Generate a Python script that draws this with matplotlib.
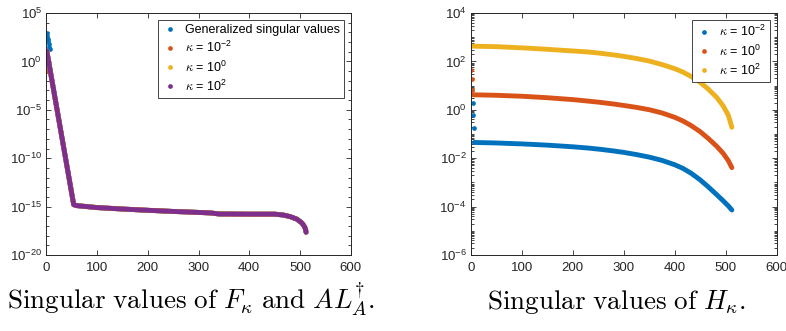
import numpy as np
import matplotlib
matplotlib.use("Agg")
import matplotlib.pyplot as plt
from matplotlib.lines import Line2D
from matplotlib.ticker import LogLocator, NullFormatter, FixedLocator

plt.rcParams['font.family'] = ['Liberation Sans', 'DejaVu Sans']
plt.rcParams['mathtext.fontset'] = 'cm'

# MATLAB default colours
c_blue, c_orange, c_yellow, c_purple = '#0072BD', '#D95319', '#EDB120', '#7E2F8E'

# ---- left panel: singular values of F_kappa and A L_A^+ (log10 values)
tail_idx = [1, 54, 60, 100, 150, 200, 250, 300, 325, 340, 400, 450, 467, 481, 494, 504, 509, 511, 512]
tail_log = [1.07, -14.8, -14.9, -15.1, -15.25, -15.38, -15.5, -15.6, -15.66, -15.76,
            -15.78, -15.78, -15.87, -16.04, -16.3, -16.7, -17.08, -17.35, -17.65]

gsv_head_idx = [1, 2, 3, 4, 5, 6, 7]
gsv_head_log = [2.9, 2.62, 2.35, 2.08, 1.8, 1.52, 1.25]
km2_head_idx = [1, 2, 3, 4, 5, 6]
km2_head_log = [-0.96, -0.96, -0.96, -0.96, -0.96, -0.96]
k0_head_idx = [1, 2]
k0_head_log = [0.02, 0.02]

left_labels = ['Generalized singular values', r'$\kappa$ = $\mathdefault{10^{-2}}$',
               r'$\kappa$ = $\mathdefault{10^{0}}$', r'$\kappa$ = $\mathdefault{10^{2}}$']

# ---- right panel: singular values of H_kappa
h_idx = [50, 101, 150, 201, 230, 253, 280, 300, 325, 351, 375, 400, 416, 432, 449,
         465, 482, 495, 505, 512]

hm2_head_idx = [4, 5, 6]
hm2_head_log = [0.30, -0.22, -0.75]
hm2_start = (7, -1.35)
hm2_log = [-1.37, -1.41, -1.46, -1.53, -1.58, -1.63, -1.70, -1.76, -1.85, -1.96, -2.09,
           -2.27, -2.42, -2.62, -2.88, -3.17, -3.50, -3.76, -3.97, -4.14]

h0_head_idx = [1, 2, 3]
h0_head_log = [1.64, 1.27, 0.81]
h0_start = (4, 0.62)
h0_log = [0.60, 0.56, 0.50, 0.42, 0.36, 0.31, 0.24, 0.18, 0.10, 0.0, -0.13, -0.31,
          -0.46, -0.65, -0.89, -1.17, -1.50, -1.80, -2.10, -2.39]

h2_start = (1, 2.63)
h2_log = [2.61, 2.56, 2.50, 2.43, 2.39, 2.34, 2.27, 2.21, 2.12, 2.01, 1.87, 1.70,
          1.56, 1.38, 1.15, 0.87, 0.52, 0.16, -0.22, -0.72]

right_labels = [r'$\kappa$ = $\mathdefault{10^{-2}}$', r'$\kappa$ = $\mathdefault{10^{0}}$',
                r'$\kappa$ = $\mathdefault{10^{2}}$']

LW = 3.5
MS = 3.4
ink = '#262626'


def pow10(v):
    return np.power(10.0, np.asarray(v, dtype=float))


def band(ax, x, ylog, color):
    ax.plot(x, pow10(ylog), '-', color=color, lw=LW, solid_capstyle='round',
            solid_joinstyle='round')


def dots(ax, x, ylog, color):
    ax.plot(x, pow10(ylog), 'o', color=color, ms=MS, mew=0)


def style(ax):
    ax.set_yscale('log')
    ax.set_xlim(0, 600)
    ax.xaxis.set_major_locator(FixedLocator(np.arange(0, 601, 100)))
    ax.tick_params(which='both', direction='in', top=True, right=True, color=ink,
                   labelcolor=ink, width=0.6, labelsize=9.5)
    ax.tick_params(which='major', length=3.5)
    ax.tick_params(which='minor', length=2)
    ax.tick_params(axis='x', pad=5)
    ax.tick_params(axis='y', pad=3)
    ax.yaxis.set_minor_formatter(NullFormatter())
    for s in ax.spines.values():
        s.set_color(ink)
        s.set_linewidth(0.7)


def legend(ax, colors, labels):
    handles = [Line2D([], [], color=c, marker='o', ls='none', ms=MS, mew=0) for c in colors]
    lg = ax.legend(handles, labels, loc='upper right', bbox_to_anchor=(0.979, 0.972),
                   fancybox=False, framealpha=1, edgecolor=ink, fontsize=9,
                   handlelength=1.2, handletextpad=0.6, borderpad=0.35, labelspacing=0.32,
                   borderaxespad=0)
    lg.get_frame().set_linewidth(0.6)
    lg.set_zorder(10)


fig = plt.figure(figsize=(7.86, 3.31), dpi=100)
axL = fig.add_axes([0.0589, 0.2296, 0.3873, 0.7311])
axR = fig.add_axes([0.5989, 0.2296, 0.3893, 0.7311])

# left panel
band(axL, tail_idx, tail_log, c_blue)
dots(axL, gsv_head_idx, gsv_head_log, c_blue)
band(axL, tail_idx, tail_log, c_orange)
dots(axL, km2_head_idx, km2_head_log, c_orange)
band(axL, tail_idx, tail_log, c_yellow)
dots(axL, k0_head_idx, k0_head_log, c_yellow)
band(axL, tail_idx, tail_log, c_purple)
style(axL)
axL.set_ylim(1e-20, 1e5)
axL.yaxis.set_major_locator(FixedLocator(pow10(np.arange(-20, 6, 5))))
axL.yaxis.set_minor_locator(FixedLocator(pow10(np.arange(-20, 6, 1))))
legend(axL, [c_blue, c_orange, c_yellow, c_purple], left_labels)

# right panel
band(axR, [hm2_start[0]] + h_idx, [hm2_start[1]] + hm2_log, c_blue)
dots(axR, hm2_head_idx, hm2_head_log, c_blue)
band(axR, [h0_start[0]] + h_idx, [h0_start[1]] + h0_log, c_orange)
dots(axR, h0_head_idx, h0_head_log, c_orange)
band(axR, [h2_start[0]] + h_idx, [h2_start[1]] + h2_log, c_yellow)
style(axR)
axR.set_ylim(1e-6, 1e4)
axR.yaxis.set_major_locator(FixedLocator(pow10(np.arange(-6, 5, 2))))
axR.yaxis.set_minor_locator(LogLocator(base=10, subs=np.arange(1, 10), numticks=100))
legend(axR, [c_blue, c_orange, c_yellow], right_labels)

fig.text(0.243, 0.065, r'$\mathrm{Singular\ values\ of\ }F_{\kappa}\mathrm{\ and\ }AL_A^{\dagger}\mathrm{.}$',
         ha='center', va='baseline', fontsize=19.5)
fig.text(0.784, 0.065, r'$\mathrm{Singular\ values\ of\ }H_{\kappa}\mathrm{.}$',
         ha='center', va='baseline', fontsize=19.5)

fig.savefig('out.png', dpi=100)
